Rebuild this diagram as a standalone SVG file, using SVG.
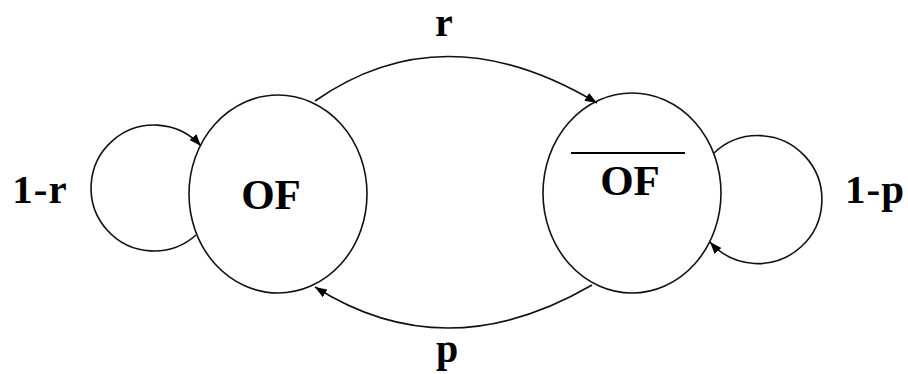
<svg xmlns="http://www.w3.org/2000/svg" width="908" height="374" viewBox="0 0 908 374">
  <style>
    .state { fill: none; stroke: #111; stroke-width: 1.6; }
    .edge { fill: none; stroke: #111; stroke-width: 1.6; marker-end: url(#arrow); }
    .lbl { font-family: 'Liberation Serif', Tinos, 'Times New Roman', Times, serif; font-weight: 700; fill: #000; }
    .big { font-size: 43px; }
    .prob { font-size: 40px; }
    .loop { font-size: 41px; letter-spacing: 1px; }
  </style>
  <defs>
    <marker id="arrow" viewBox="0 0 12 9" refX="12" refY="4.5" markerWidth="12" markerHeight="9" markerUnits="userSpaceOnUse" orient="auto">
      <path d="M0,0 L12,4.5 L0,9 Z" fill="#000"/>
    </marker>
  </defs>
  <rect width="908" height="374" fill="#fff"/>

  <!-- transitions -->
  <g id="connectors">
    <path class="edge" d="M315,101 Q444,11 597,103"/>
    <path class="edge" d="M592,285 Q446,370 315,287"/>
    <path class="edge" d="M196,235 A63,63 0 1 1 201,146"/>
    <path class="edge" d="M714,153 A64,64 0 1 1 710,242"/>
  </g>

  <!-- state OF -->
  <g id="state-of">
    <ellipse class="state" cx="278" cy="194" rx="89" ry="99"/>
    <text class="lbl big" x="271" y="209" text-anchor="middle">OF</text>
  </g>

  <!-- state not-OF -->
  <g id="state-not-of">
    <ellipse class="state" cx="632" cy="193" rx="89" ry="100"/>
    <line x1="571" y1="153" x2="685" y2="153" stroke="#000" stroke-width="2.2"/>
    <text class="lbl big" x="630" y="195" text-anchor="middle">OF</text>
  </g>

  <!-- transition probabilities -->
  <g id="labels">
    <text class="lbl prob" x="444" y="36" text-anchor="middle">r</text>
    <text class="lbl prob" x="447" y="362" text-anchor="middle">p</text>
    <text class="lbl loop" x="40" y="203" text-anchor="middle">1-r</text>
    <text class="lbl loop" x="875" y="203" text-anchor="middle">1-p</text>
  </g>
</svg>
